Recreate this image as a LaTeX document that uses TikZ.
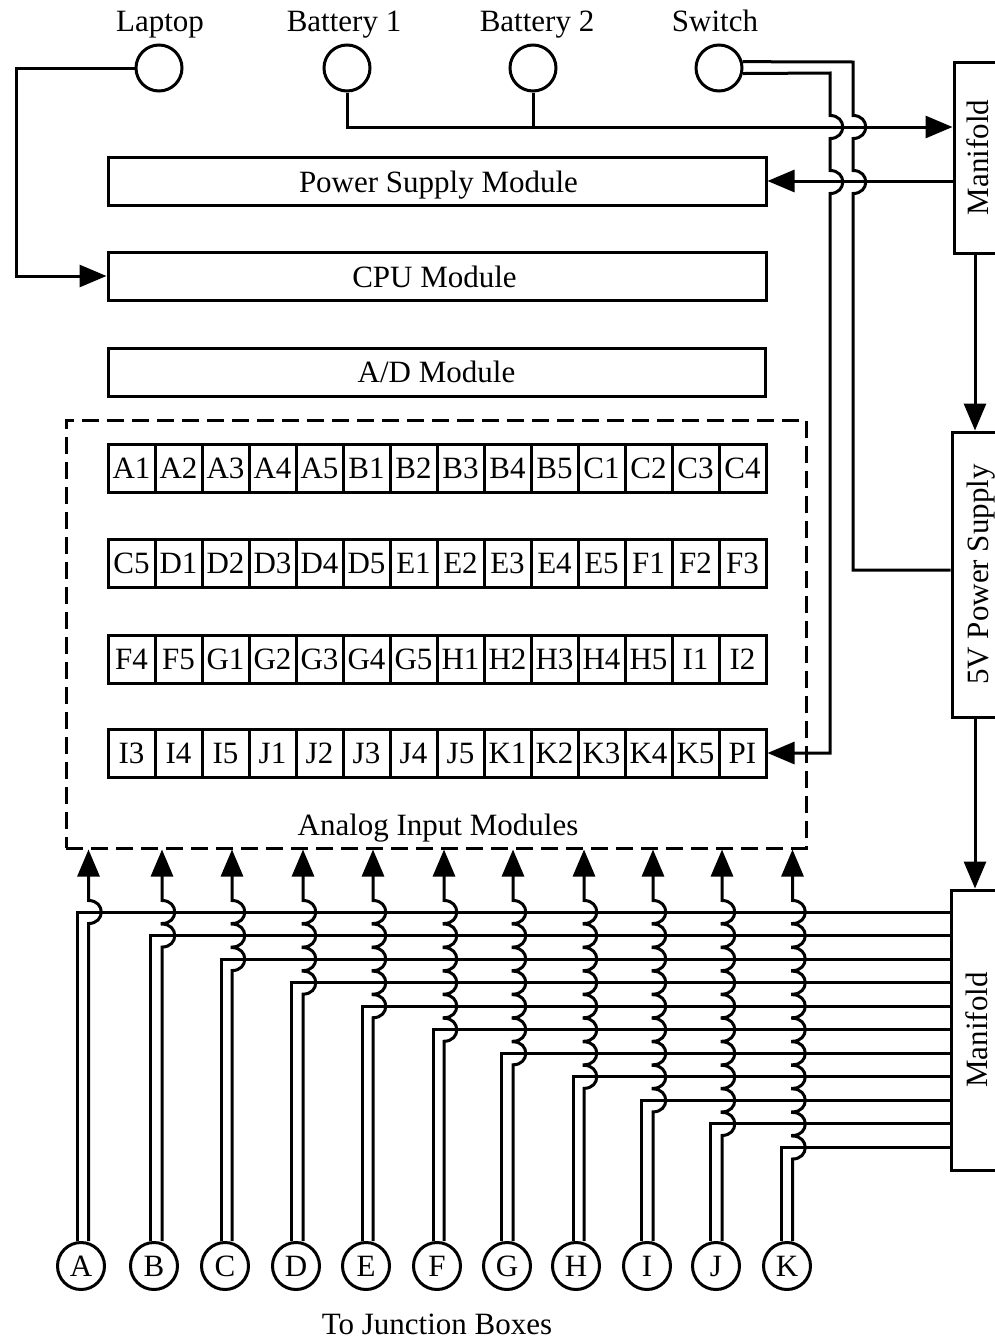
\documentclass[tikz,border=0pt]{standalone}
\usepackage{fontspec}
\setmainfont{Liberation Serif}
\usetikzlibrary{arrows.meta}

\begin{document}
\begin{tikzpicture}[x=1pt, y=-1pt, line width=3pt,
  every node/.style={font=\fontsize{31}{32}\selectfont, inner sep=0pt, text height=20pt, text depth=0pt},
  wire/.style={draw=black, line width=3pt},
  tip/.style={-{Triangle[length=27pt,width=22pt]}},
  port/.style={draw, circle, minimum size=46pt},
  jbox/.style={draw, circle, minimum size=47pt},
  modbox/.style={draw, rectangle, minimum height=48pt},
  cellbox/.style={draw, rectangle, minimum width=47pt, minimum height=48pt},
  sidebox/.style={draw, rectangle, rotate=90}]
\useasboundingbox (0,0) rectangle (995,1339);

\node [port] (laptop) at (159,68) {};
\node [port] (bat1)   at (347,68) {};
\node [port] (bat2)   at (533,68) {};
\node [port] (switch) at (719,68) {};
\node (laptoptxt) at (160,21) {Laptop};
\node (bat1txt)   at (344,21) {Battery 1};
\node (bat2txt)   at (537,21) {Battery 2};
\node (switchtxt) at (715,21) {Switch};

\node [modbox, minimum width=658pt] (power) at (437,181) {};
\node (powertxt) at (438.5,182) {Power Supply Module};
\node [modbox, minimum width=658pt] (cpu) at (437,276) {};
\node (cputxt) at (434.5,277) {CPU Module};
\node [modbox, minimum width=657pt] (adc) at (436.5,372) {A/D Module};

\foreach \ry/\rn/\rlist in {
  468/a/{A1,A2,A3,A4,A5,B1,B2,B3,B4,B5,C1,C2,C3,C4},
  563/b/{C5,D1,D2,D3,D4,D5,E1,E2,E3,E4,E5,F1,F2,F3},
  659/c/{F4,F5,G1,G2,G3,G4,G5,H1,H2,H3,H4,H5,I1,I2},
  753/d/{I3,I4,I5,J1,J2,J3,J4,J5,K1,K2,K3,K4,K5,PI}} {
  \foreach \txt [count=\c] in \rlist {
    \node [cellbox] (\rn\c) at ({108+47*(\c-0.5)},\ry) {\txt};
  }
}

\node [draw, rectangle, dash pattern=on 17pt off 8pt, minimum width=740pt, minimum height=428pt] (modules) at (436,634) {};
\node (modulestxt) at (438,825) {Analog Input Modules};

\node [sidebox, minimum width=191pt, minimum height=48pt] (mantop) at (978,157.5) {Manifold};
\node [sidebox, minimum width=285pt, minimum height=52pt] (supply) at (978,574.5) {5V Power Supply};
\node [sidebox, minimum width=280pt, minimum height=52pt] (manlow) at (977,1030) {Manifold};

\draw [wire, tip] (laptop.west) -- (16,68) |- (cpu.west);
\draw [wire, tip] (bat1.south) |- (mantop.north |- 0,127);
\draw [wire] (bat2.south) -- (bat2.south |- 0,127);
\draw [wire, tip] (mantop.north |- power.east) -- (power.east);
\draw [wire, tip] (mantop.west -| 975,0) -- (supply.east -| 975,0);
\draw [wire, tip] (supply.west -| 975,0) -- (manlow.east -| 975,0);

\draw [wire] (switch.15) -- (853,62) -- (853,115.5)
  .. controls (870,115.5) and (870,138.5) .. (853,138.5) -- (853,170.5)
  .. controls (870,170.5) and (870,193.5) .. (853,193.5) |- (supply.north |- 0,570);
\draw [wire, tip] (switch.-13) -- (830,73) -- (830,115.5)
  .. controls (847,115.5) and (847,138.5) .. (830,138.5) -- (830,170.5)
  .. controls (847,170.5) and (847,193.5) .. (830,193.5) |- (d14.east);

\foreach \n/\xc/\xo/\xi [count=\ii] in {A/81/77/88.5,B/154/150/162,C/225/221/232,D/296/291/303,E/366/362/373,
  F/437/433/444,G/507/501/513,H/576/573/584,I/647/641/653,J/716/710/722,K/787/781/792.5} {
  \node [jbox] (c\n) at (\xc,1266) {\n};
  \draw [wire] (manlow.north |- 0,{888.45+23.55*\ii}) -- (\xo,{888.45+23.55*\ii}) -- (c\n.north -| \xo,0);
  \draw [wire, tip] (c\n.north -| \xi,0)
    foreach \k in {\ii,...,1} {
      -- (\xi,{888.45+23.55*\k+11.5})
      .. controls (\xi+17,{888.45+23.55*\k+11.5}) and (\xi+17,{888.45+23.55*\k-11.5}) .. (\xi,{888.45+23.55*\k-11.5})
    } -- (modules.south -| \xi,0);
}

\node (junctxt) at (437,1324) {To Junction Boxes};
\end{tikzpicture}
\end{document}
